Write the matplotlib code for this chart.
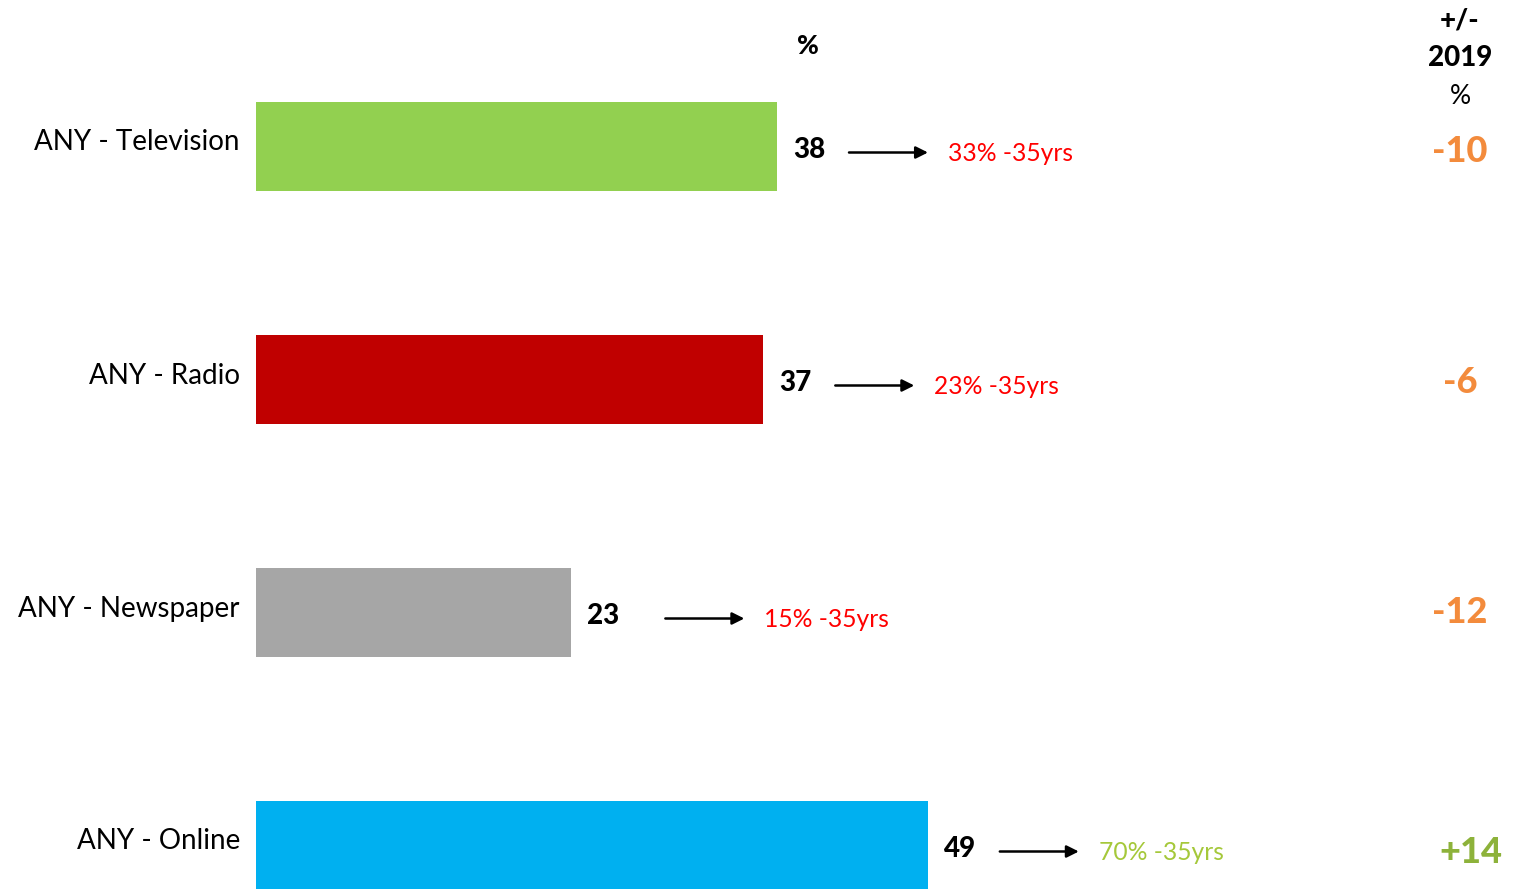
import matplotlib.pyplot as plt

# media reach, % of adults
categories = ["ANY - Television", "ANY - Radio", "ANY - Newspaper", "ANY - Online"]
values = [38, 37, 23, 49]
bar_colors = ["#92D050", "#C00000", "#A6A6A6", "#00B0F0"]
young = ["33% -35yrs", "23% -35yrs", "15% -35yrs", "70% -35yrs"]
young_colors = ["#FF0000", "#FF0000", "#FF0000", "#A5C83A"]
change = ["-10", "-6", "-12", "+14"]
change_colors = ["#F38B3C", "#F38B3C", "#F38B3C", "#8DB23A"]

plt.rcParams['font.family'] = ['Lato', 'DejaVu Sans']

W, H = 1517, 889
fig = plt.figure(figsize=(W / 100, H / 100), dpi=100)
px = 521 / 38  # pixels per percentage point
left = 256
ax = fig.add_axes([left / W, 0, (W - left) / W, 1])
ax.set_xlim(0, (W - left) / px)
step = 233
ax.set_ylim(3 + (H - 845.5) / step, -146.5 / step)
ax.axis("off")

ys = list(range(len(categories)))
ax.barh(ys, values, height=89 / step, color=bar_colors)

u = 1 / px  # one pixel in data units
dy = 1 / step
extra_gap = [0, 0, 22, 0]   # the newspaper arrow sits a bit further out
change_shift = [0, 0, 0, 11]
change_dy = [5, 3, 0, 7]
for y, v, lab, yt, yc, ch, cc in zip(ys, values, categories, young, young_colors,
                                      change, change_colors):
    g = extra_gap[y] * u
    ax.text(-16 * u, y - 4 * dy, lab, ha="right", va="center", fontsize=20,
            color="black", clip_on=False)
    ax.text(v + 16 * u, y + 4 * dy, str(v), ha="left", va="center", fontsize=20,
            fontweight="black", color="black")
    ax.annotate("", xy=(v + g + 151 * u, y + 6 * dy), xytext=(v + g + 72 * u, y + 6 * dy),
                arrowprops=dict(arrowstyle="-|>", color="black", lw=1.8,
                                mutation_scale=18, shrinkA=0, shrinkB=0))
    ax.text(v + g + 171 * u, y + 7 * dy, yt, ha="left", va="center", fontsize=17.7,
            color=yc)
    fig.text((1460 + change_shift[y]) / W,
             1 - (146.5 + change_dy[y] + y * step) / H, ch,
             ha="center", va="center", fontsize=26, fontweight="black", color=cc)

fig.text(808 / W, 1 - 46 / H, "%", ha="center", va="center", fontsize=19,
         fontweight="black")
fig.text(1460 / W, 1 - 20 / H, "+/-", ha="center", va="center", fontsize=20,
         fontweight="black")
fig.text(1460 / W, 1 - 58 / H, "2019", ha="center", va="center", fontsize=20,
         fontweight="black")
fig.text(1460 / W, 1 - 97 / H, "%", ha="center", va="center", fontsize=19)

fig.savefig("out.png", dpi=100)
